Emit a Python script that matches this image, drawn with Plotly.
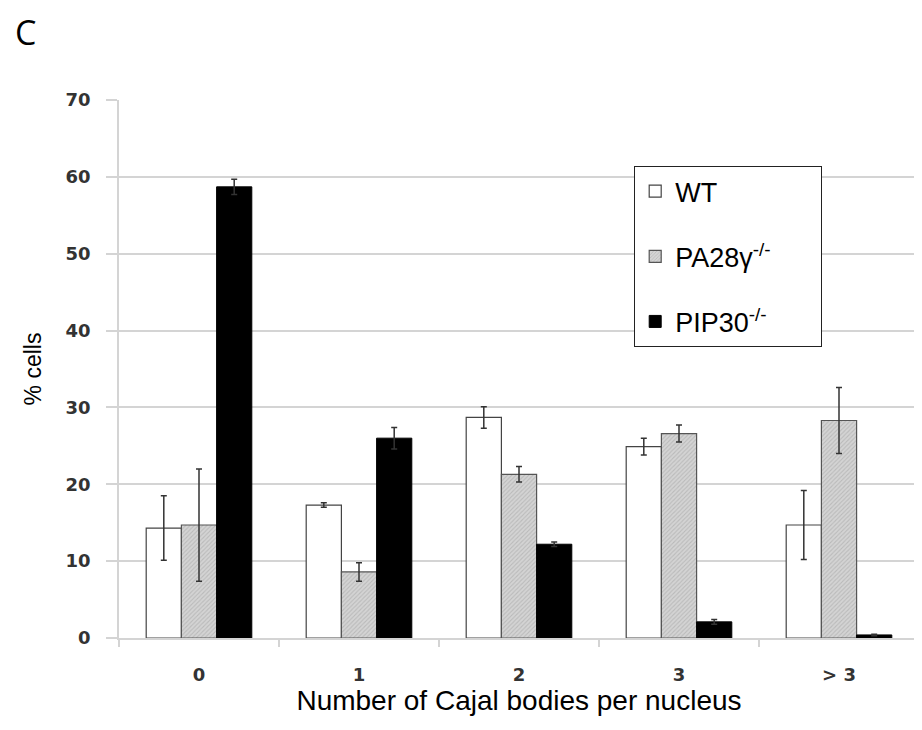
import plotly.graph_objects as go

categories = ["0", "1", "2", "3", "> 3"]
wt = [14.3, 17.3, 28.7, 24.9, 14.7]
wt_err = [4.2, 0.3, 1.4, 1.1, 4.5]
pa28 = [14.7, 8.6, 21.3, 26.6, 28.3]
pa28_err = [7.3, 1.2, 1.0, 1.1, 4.3]
pip30 = [58.7, 26.0, 12.2, 2.1, 0.4]
pip30_err = [1.0, 1.4, 0.3, 0.3, 0.1]

err_style = dict(type="data", visible=True, color="#333333", thickness=1.5, width=3)
pad = "\u00a0" * 6

fig = go.Figure()
fig.add_trace(go.Bar(
    x=categories, y=wt, name="WT" + pad, legendgroup="a",
    marker=dict(color="white", line=dict(color="#444444", width=1.2)),
    error_y=dict(array=wt_err, **err_style),
))
fig.add_trace(go.Bar(
    x=categories, y=pa28, name="PA28γ<sup>-/-</sup>" + pad, legendgroup="b",
    marker=dict(color="#cfcfcf", line=dict(color="#555555", width=1.2),
                pattern=dict(shape="/", fgcolor="#a0a0a0", bgcolor="#d4d4d4", size=3, solidity=0.35)),
    error_y=dict(array=pa28_err, **err_style),
))
fig.add_trace(go.Bar(
    x=categories, y=pip30, name="PIP30<sup>-/-</sup>" + pad, legendgroup="c",
    marker=dict(color="black", line=dict(color="black", width=1)),
    error_y=dict(array=pip30_err, **err_style),
))

fig.update_layout(
    width=914, height=722,
    margin=dict(l=111, r=3, t=92, b=92),
    paper_bgcolor="white", plot_bgcolor="white",
    barmode="group", bargap=0.34, bargroupgap=0,
    font=dict(family="Liberation Sans, Arial, sans-serif", color="#222222"),
    legend=dict(
        x=0.644, y=0.877, xanchor="left", yanchor="top",
        bordercolor="#222222", borderwidth=1, bgcolor="white",
        font=dict(size=27, color="black"),
        traceorder="grouped", tracegroupgap=27,
    ),
    annotations=[
        dict(text="C", x=-0.1325, y=1.172, xref="paper", yref="paper", showarrow=False,
             font=dict(size=34, color="black", family="Open Sans, Liberation Sans, sans-serif"),
             xanchor="left", yanchor="top"),
    ],
)

fig.update_yaxes(
    range=[0, 70], dtick=10,
    showgrid=True, gridcolor="#d4d4d4", gridwidth=1.5,
    showline=True, linecolor="#d4d4d4", linewidth=1.5,
    ticks="outside", ticklen=11, tickcolor="#d4d4d4", tickwidth=1.5,
    ticklabelstandoff=12,
    tickfont=dict(size=18, color="#333333", family="DejaVu Sans, sans-serif", weight="bold"),
    title=dict(text="% cells", font=dict(size=23, color="black"), standoff=18),
    zeroline=False,
)
fig.update_xaxes(
    showline=True, linecolor="#d4d4d4", linewidth=1.5,
    ticks="outside", ticklen=7, tickcolor="#d4d4d4", tickwidth=1.5,
    tickson="boundaries", ticklabelstandoff=20,
    tickfont=dict(size=18, color="#333333", family="DejaVu Sans, sans-serif", weight="bold"),
    title=dict(text="Number of Cajal bodies per nucleus", font=dict(size=28, color="black"), standoff=2),
)

fig.write_html("out.html")
